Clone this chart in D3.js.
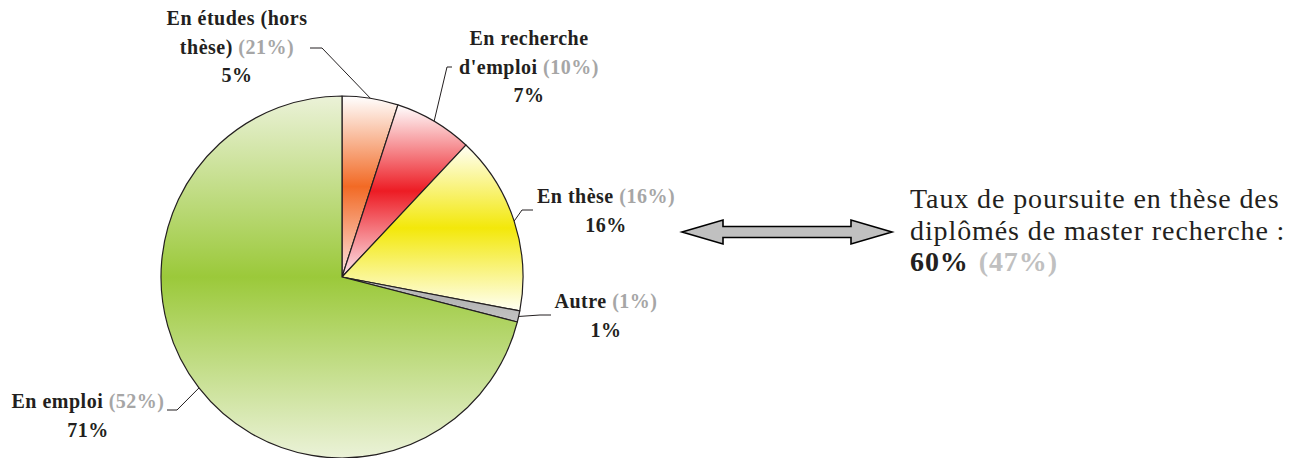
<!DOCTYPE html>
<html>
<head>
<meta charset="utf-8">
<script src="https://cdn.jsdelivr.net/npm/d3@7/dist/d3.min.js"></script>
<style>
  html, body { margin: 0; padding: 0; background: #ffffff; }
  svg { display: block; }
</style>
</head>
<body>
<svg id="chart" width="1295" height="458"></svg>
<script>
// Situation des diplômés de master recherche (entre parenthèses : valeurs de référence)
const categories = ["En études (hors thèse)", "En recherche d'emploi", "En thèse", "Autre", "En emploi"];
const labelLines = [["En études (hors", "thèse)"], ["En recherche", "d'emploi"], ["En thèse"], ["Autre"], ["En emploi"]];
const values = [5, 7, 16, 1, 71];
const refValues = [21, 10, 16, 1, 52];
const thesisRate = 60;
const thesisRateRef = 47;

// slice fills: vertical gradients (edge, centre, edge)
const gradStops = [
  ["#ffffff", "#f26a25", "#fce4e4"],
  ["#ffffff", "#ed1c24", "#fde8ee"],
  ["#fffff6", "#f3e80a", "#fffff4"],
  ["#c4c4c4", "#b4b4b4", "#c4c4c4"],
  ["#ebf2d8", "#9bc93a", "#ebf2d8"]
];

// label placement: centre x, first baseline, leader elbow and end
const labelLayout = [
  { x: 237, y: 25, elbow: [322, 48], end: [310, 48] },
  { x: 529, y: 45, elbow: [447, 67], end: [452, 67] },
  { x: 606, y: 203, elbow: [522, 210], end: [533, 210] },
  { x: 606, y: 308, elbow: [540, 315], end: [551, 315] },
  { x: 88, y: 408, elbow: [177, 410], end: [167, 410] }
];

const serif = "'Liberation Serif', 'Times New Roman', Times, serif";
const svg = d3.select("#chart");
const cx = 342, cy = 277, r = 181;
const ink = "#231f20", grey = "#a6a6a6";
const lineH = 28.5;

const defs = svg.append("defs");
gradStops.forEach((s, i) => {
  const g = defs.append("linearGradient")
    .attr("id", "grad" + i)
    .attr("x1", 0).attr("y1", 0).attr("x2", 0).attr("y2", 1);
  g.append("stop").attr("offset", "0%").attr("stop-color", s[0]);
  g.append("stop").attr("offset", "50%").attr("stop-color", s[1]);
  g.append("stop").attr("offset", "100%").attr("stop-color", s[2]);
});

const pie = d3.pie().sort(null).value(d => d.value);
const data = pie(categories.map((c, i) => ({ name: c, value: values[i], ref: refValues[i], idx: i })));
const arc = d3.arc().innerRadius(0).outerRadius(r);

const g = svg.append("g").attr("transform", `translate(${cx},${cy})`);
g.selectAll("path.slice")
  .data(data)
  .join("path")
  .attr("class", "slice")
  .attr("d", arc)
  .attr("fill", d => `url(#grad${d.data.idx})`)
  .attr("stroke", ink)
  .attr("stroke-width", 1.2)
  .attr("stroke-linejoin", "round");

// leader lines from slice edge to labels
data.forEach(d => {
  const lay = labelLayout[d.data.idx];
  const a = (d.startAngle + d.endAngle) / 2;
  const p0 = [cx + r * Math.sin(a), cy - r * Math.cos(a)];
  svg.append("polyline")
    .attr("points", [p0, lay.elbow, lay.end].map(p => p.join(",")).join(" "))
    .attr("fill", "none")
    .attr("stroke", ink)
    .attr("stroke-width", 1);
});

// slice labels
data.forEach(d => {
  const lay = labelLayout[d.data.idx];
  const lines = labelLines[d.data.idx];
  const t = svg.append("text")
    .attr("text-anchor", "middle")
    .attr("font-family", serif)
    .attr("font-weight", "bold")
    .attr("font-size", 20)
    .attr("letter-spacing", 0.5)
    .attr("fill", ink);
  lines.forEach((ln, k) => {
    t.append("tspan").attr("x", lay.x).attr("y", lay.y + k * lineH).text(ln);
    if (k === lines.length - 1) {
      t.append("tspan").attr("fill", grey).text(` (${d.data.ref}%)`);
    }
  });
  t.append("tspan").attr("x", lay.x).attr("y", lay.y + lines.length * lineH).text(`${d.data.value}%`);
});

// double-headed arrow
const ax0 = 682, ax1 = 892, ay = 232, headL = 41, headH = 12, shaftH = 5.5;
const arrowPts = [
  [ax0, ay], [ax0 + headL, ay - headH], [ax0 + headL, ay - shaftH],
  [ax1 - headL, ay - shaftH], [ax1 - headL, ay - headH], [ax1, ay],
  [ax1 - headL, ay + headH], [ax1 - headL, ay + shaftH],
  [ax0 + headL, ay + shaftH], [ax0 + headL, ay + headH]
];
svg.append("polygon")
  .attr("points", arrowPts.map(p => p.join(",")).join(" "))
  .attr("fill", "#c0c0c0")
  .attr("stroke", "#000")
  .attr("stroke-width", 1.6)
  .attr("stroke-linejoin", "miter");

// thesis continuation rate
const note = svg.append("text")
  .attr("font-family", serif)
  .attr("font-size", 28)
  .attr("letter-spacing", 0.9)
  .attr("fill", ink);
note.append("tspan").attr("x", 910).attr("y", 208).text("Taux de poursuite en thèse des");
note.append("tspan").attr("x", 910).attr("y", 240).text("diplômés de master recherche :");
note.append("tspan").attr("x", 910).attr("y", 271).attr("font-weight", "bold").text(`${thesisRate}%`);
note.append("tspan").attr("font-weight", "bold").attr("fill", "#c0c0c0").attr("dx", 10).text(`(${thesisRateRef}%)`);
</script>
</body>
</html>
